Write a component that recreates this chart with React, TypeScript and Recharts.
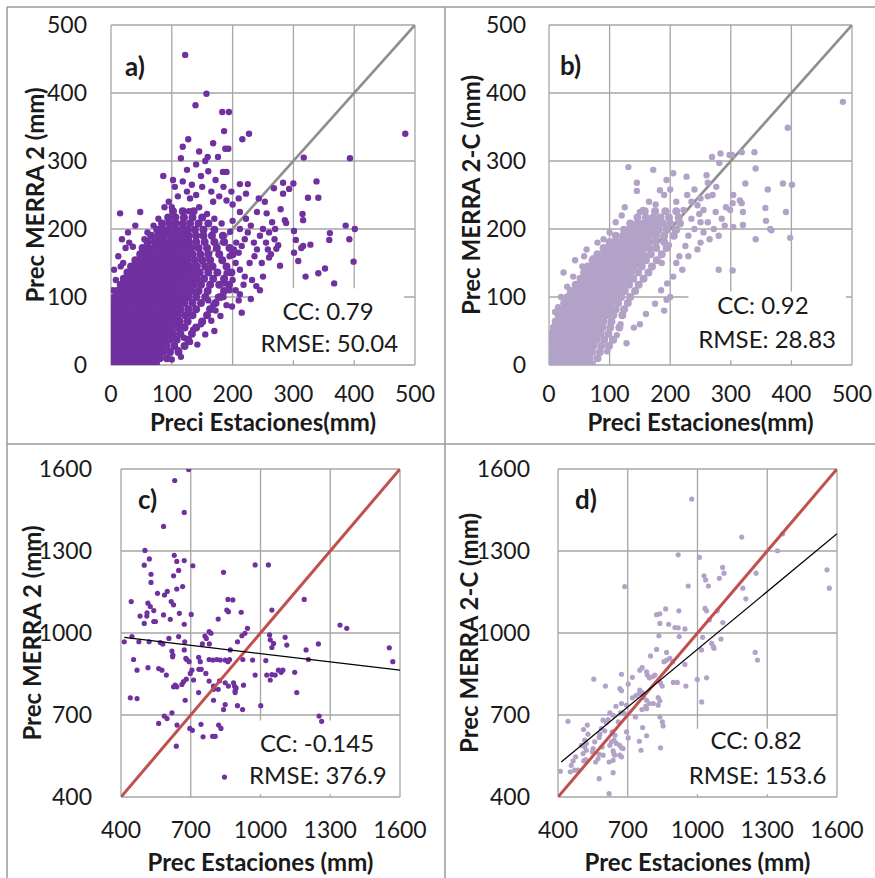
import React from 'react';
import {
  ScatterChart,
  Scatter,
  XAxis,
  YAxis,
  CartesianGrid,
  ReferenceArea,
  ReferenceDot,
  Label,
} from 'recharts';

const FONT = 'Lato, "Open Sans", sans-serif';
const INK = '#1a1a1a';

type Pair = [number, number];
type Row = [number, number[]];

// tick labels
const monthlyTicks = [0, 100, 200, 300, 400, 500];
const annualTicks = [400, 700, 1000, 1300, 1600];

// a) monthly MERRA 2 vs stations: dense core read as rows [y, x values]
const merra2MonthlyCore: Row[] = [
  [2, [1, 9, 18, 27, 36, 45, 54, 64, 74]],
  [10, [4, 13, 22, 31, 40, 50, 60, 70, 80, 92]],
  [19, [1, 9, 18, 27, 36, 45, 55, 65, 75, 85, 97, 111]],
  [28, [4, 13, 22, 31, 41, 51, 61, 71, 81, 91, 104, 121]],
  [37, [1, 9, 18, 27, 36, 46, 56, 66, 76, 86, 96, 108, 127]],
  [46, [4, 13, 22, 32, 42, 52, 62, 72, 82, 92, 102, 114, 133]],
  [55, [1, 9, 18, 28, 38, 48, 58, 68, 78, 88, 98, 110, 121, 140]],
  [64, [4, 13, 23, 33, 43, 53, 63, 73, 83, 93, 103, 113, 126, 150]],
  [73, [1, 10, 20, 30, 40, 50, 60, 70, 80, 90, 100, 110, 122, 134, 158]],
  [82, [4, 14, 24, 34, 44, 54, 64, 74, 84, 94, 104, 114, 127, 140, 163]],
  [91, [3, 11, 21, 31, 41, 51, 61, 71, 81, 91, 101, 111, 121, 134, 148, 172]],
  [100, [6, 16, 26, 36, 46, 56, 66, 76, 86, 96, 106, 116, 127, 140, 155, 180]],
  [109, [10, 20, 30, 40, 50, 60, 70, 80, 90, 100, 110, 121, 132, 144, 159, 186]],
  [118, [16, 26, 34, 44, 54, 64, 74, 84, 94, 104, 114, 125, 136, 148, 163, 178, 194]],
  [127, [21, 29, 39, 49, 59, 69, 79, 89, 99, 109, 119, 130, 141, 153, 168, 186]],
  [136, [27, 34, 44, 54, 64, 74, 84, 94, 104, 114, 124, 135, 146, 160, 175, 198]],
  [145, [33, 42, 50, 60, 70, 80, 90, 100, 110, 120, 130, 141, 155, 167, 190]],
  [154, [40, 50, 58, 66, 76, 86, 96, 106, 116, 126, 138, 150, 163, 183]],
  [163, [48, 56, 64, 74, 84, 94, 104, 114, 124, 134, 147, 160, 178, 200]],
  [172, [52, 62, 72, 82, 92, 102, 112, 122, 132, 144, 158, 174, 195]],
  [181, [60, 72, 80, 88, 98, 108, 118, 128, 140, 154, 170, 186]],
  [190, [66, 78, 88, 98, 108, 118, 128, 140, 152, 166, 184]],
  [199, [76, 86, 96, 106, 116, 126, 138, 152, 170]],
  [208, [84, 96, 106, 118, 130, 144, 160]],
  [217, [94, 106, 120, 134, 150]],
  [226, [102, 118, 136]],
];

const merra2MonthlySpread: Pair[] = [
  [122, 456], [157, 399], [139, 382], [183, 372], [194, 372], [186, 344], [484, 340], [227, 340],
  [216, 332], [127, 332], [118, 321], [168, 326], [188, 318], [193, 318], [145, 314], [159, 306],
  [176, 306], [115, 304], [317, 305], [393, 304], [184, 284], [190, 284], [125, 287], [212, 266],
  [225, 266], [86, 278], [102, 272], [133, 265], [283, 268], [300, 267], [338, 270], [293, 259],
  [268, 260], [341, 246], [324, 246], [283, 252], [222, 252], [243, 245], [253, 240], [315, 222],
  [316, 213], [256, 223], [279, 229], [286, 213], [288, 209], [386, 205], [401, 200], [360, 194],
  [359, 184], [392, 185], [301, 197], [304, 184], [316, 175], [313, 172], [301, 165], [328, 177],
  [269, 185], [275, 176], [272, 171], [263, 163], [308, 153], [399, 152], [341, 135], [320, 130],
  [352, 142], [367, 120], [278, 146], [260, 158], [239, 116], [215, 77], [212, 104], [230, 97],
  [199, 86], [130, 34], [15, 223], [48, 225], [16, 145], [24, 172], [36, 174],
  [95, 240], [110, 248], [125, 255], [140, 250], [150, 262], [165, 255], [178, 248], [190, 242],
  [200, 236], [105, 262], [118, 270], [148, 278], [160, 285], [172, 272], [185, 262], [198, 255],
  [210, 245], [140, 295], [155, 300], [130, 245], [168, 240], [70, 205], [60, 195], [78, 215],
  [55, 185], [88, 232], [100, 232], [128, 226], [145, 232], [158, 222], [170, 215], [182, 208],
  [205, 150], [210, 165], [215, 175], [220, 185], [225, 195], [230, 205], [235, 180], [240, 170],
  [245, 190], [250, 200], [255, 180], [260, 195], [265, 210], [270, 200], [212, 140], [220, 130],
  [228, 150], [236, 160], [248, 150], [232, 125], [218, 118], [205, 110], [210, 95], [200, 125],
  [222, 215], [240, 225], [200, 212], [212, 225], [258, 170], [250, 130], [245, 110], [206, 180],
  [212, 200], [196, 196], [202, 170], [195, 160], [190, 135], [185, 120], [176, 100], [168, 88],
  [110, 22], [120, 40], [135, 52], [148, 60], [155, 45], [165, 65], [172, 80], [180, 72],
  [190, 88], [142, 30], [160, 95], [185, 100], [195, 110], [170, 50], [115, 12], [100, 8],
  [3, 110], [8, 125], [5, 140], [12, 160], [20, 150], [18, 185], [28, 195], [40, 205], [30, 180],
];

// b) monthly MERRA 2-C (corrected) vs stations
const merra2cMonthlyCore: Row[] = [
  [2, [1, 10, 20, 30, 40, 50, 62]],
  [10, [1, 8, 17, 27, 37, 47, 57, 67, 80]],
  [19, [2, 11, 21, 31, 41, 51, 61, 71, 84]],
  [28, [4, 13, 23, 33, 43, 53, 63, 73, 86, 99]],
  [37, [3, 9, 18, 28, 38, 48, 58, 68, 78, 91, 106]],
  [46, [5, 14, 24, 34, 44, 54, 64, 74, 85, 98]],
  [55, [8, 17, 27, 37, 47, 57, 67, 77, 88, 101, 116]],
  [64, [11, 20, 30, 40, 50, 60, 70, 80, 90, 103]],
  [73, [16, 24, 34, 44, 54, 64, 74, 84, 94, 106, 121]],
  [82, [20, 28, 38, 48, 58, 68, 78, 88, 98, 110, 124]],
  [91, [25, 32, 42, 52, 62, 72, 82, 92, 102, 114, 130]],
  [100, [31, 37, 47, 57, 67, 77, 87, 97, 107, 119, 134]],
  [109, [36, 45, 53, 63, 73, 83, 93, 103, 113, 125, 142]],
  [118, [44, 52, 60, 70, 80, 90, 100, 110, 120, 132, 148]],
  [127, [52, 58, 67, 77, 87, 97, 107, 117, 127, 139, 156]],
  [136, [58, 66, 74, 84, 94, 104, 114, 124, 134, 147, 164]],
  [145, [64, 72, 80, 90, 100, 110, 120, 130, 140, 153, 170]],
  [154, [72, 80, 88, 98, 108, 118, 128, 138, 148, 160, 178]],
  [163, [80, 90, 95, 105, 115, 125, 135, 145, 155, 168, 186]],
  [172, [90, 98, 105, 115, 125, 135, 145, 155, 165, 177, 194]],
  [181, [100, 110, 118, 125, 135, 145, 155, 165, 176, 190]],
  [190, [110, 122, 130, 138, 145, 155, 166, 177, 190, 206]],
  [199, [124, 134, 142, 150, 160, 170, 181, 194, 210]],
  [208, [134, 146, 156, 166, 176, 188, 200, 216]],
  [217, [146, 160, 172, 184, 198, 214]],
  [226, [158, 175, 192, 210]],
];

const merra2cMonthlySpread: Pair[] = [
  [485, 387], [394, 349], [401, 265], [386, 267], [391, 225], [398, 187], [365, 200], [367, 198],
  [358, 212], [357, 231], [361, 258], [341, 185], [341, 289], [339, 313], [318, 313], [302, 309],
  [298, 309], [283, 311], [269, 306], [281, 297], [260, 279], [324, 267], [304, 250], [315, 242],
  [318, 238], [303, 238], [320, 225], [299, 228], [304, 203], [320, 206], [280, 140], [303, 139],
  [131, 291], [172, 287], [194, 272], [145, 268], [145, 256], [227, 277], [183, 257], [205, 282],
  [43, 154], [58, 160], [24, 136], [73, 157], [128, 32], [194, 96],
  [235, 240], [245, 235], [250, 245], [255, 228], [262, 248], [270, 250], [275, 225], [285, 215],
  [290, 205], [262, 210], [272, 200], [280, 190], [250, 210], [240, 200], [255, 195], [265, 185],
  [230, 190], [225, 175], [215, 160], [210, 150], [220, 140], [205, 130], [195, 120], [185, 110],
  [200, 100], [175, 90], [190, 80], [160, 75], [150, 60], [140, 55], [235, 215], [248, 222],
  [292, 232], [276, 262], [262, 268], [240, 258], [228, 250], [210, 240], [200, 258], [190, 250],
  [165, 240], [155, 228], [150, 225], [120, 220], [110, 210], [125, 232], [100, 195], [90, 185],
  [80, 180], [62, 170], [55, 145], [40, 130], [30, 115], [20, 100], [15, 85], [10, 78],
  [230, 160], [245, 170], [250, 180], [176, 236], [222, 228], [208, 198], [198, 176], [186, 150],
  [118, 60], [112, 44], [96, 20], [72, 2],
];

// c) annual MERRA 2 vs stations
const merra2Annual: Pair[] = [
  [691, 1598], [631, 1558], [672, 1441], [583, 1390], [503, 1302], [522, 1271], [500, 1248], [629, 1284],
  [640, 1262], [672, 1265], [709, 1246], [841, 1222], [977, 1249], [1034, 1249], [529, 1215], [529, 1185],
  [626, 1209], [648, 1229], [665, 1170], [640, 1161], [444, 1115], [557, 1145], [587, 1139], [599, 1152],
  [616, 1115], [626, 1103], [516, 1109], [526, 1097], [541, 1082], [482, 1062], [511, 1062], [512, 1074],
  [500, 1035], [541, 1042], [548, 1042], [583, 1066], [612, 1050], [651, 1072], [702, 1068], [672, 1032],
  [860, 1123], [881, 1121], [855, 1084], [862, 1078], [818, 1051], [917, 1076], [1049, 1084], [1188, 1123],
  [1342, 1029], [1371, 1017], [944, 1017], [933, 999], [920, 990], [761, 989], [779, 1005], [787, 999],
  [767, 980], [750, 960], [780, 960], [447, 987], [414, 968], [477, 968], [521, 968], [569, 965],
  [606, 980], [648, 987], [674, 968], [580, 960], [619, 934], [623, 919], [622, 913], [672, 938],
  [679, 907], [683, 903], [693, 895], [734, 911], [741, 895], [779, 903], [795, 901], [812, 903],
  [827, 901], [848, 901], [860, 895], [867, 903], [870, 938], [901, 968], [924, 903], [966, 901],
  [1023, 899], [1039, 993], [1042, 975], [1056, 962], [1049, 947], [1106, 984], [1113, 956], [1196, 938],
  [1206, 903], [1249, 960], [1554, 946], [1569, 895], [1147, 856], [1089, 856], [1077, 864], [1096, 864],
  [1049, 848], [1027, 846], [1042, 828], [1063, 846], [977, 846], [1156, 782], [1001, 734], [469, 864],
  [516, 873], [562, 870], [576, 864], [595, 846], [633, 809], [640, 803], [626, 803], [662, 812],
  [669, 822], [681, 831], [698, 852], [705, 864], [712, 828], [735, 867], [745, 867], [765, 852],
  [779, 824], [798, 806], [798, 794], [818, 794], [824, 825], [848, 818], [862, 806], [884, 818],
  [888, 806], [891, 789], [891, 782], [895, 799], [927, 809], [440, 763], [469, 760], [454, 903],
  [676, 754], [734, 782], [798, 754], [841, 720], [848, 738], [901, 734], [923, 720], [619, 708],
  [586, 696], [598, 687], [562, 669], [641, 663], [696, 651], [707, 644], [744, 666], [753, 620],
  [794, 622], [805, 622], [820, 663], [830, 651], [638, 586], [1252, 696], [1263, 677], [845, 473],
];

// d) annual MERRA 2-C vs stations
const merra2cAnnual: Pair[] = [
  [975, 1490], [1190, 1351], [1366, 1363], [1344, 1301], [917, 1286], [1008, 1277], [1557, 1231], [1567, 1164],
  [1108, 1240], [1114, 1219], [1094, 1200], [1028, 1209], [1035, 1194], [1047, 1172], [960, 1172], [687, 1170],
  [1252, 1219], [1195, 1164], [1208, 1125], [1032, 1090], [1039, 1081], [1085, 1081], [1051, 1048], [1109, 1038],
  [1101, 978], [1022, 984], [1017, 938], [1061, 962], [1068, 950], [1071, 944], [1248, 929], [1258, 901],
  [863, 1088], [838, 1070], [824, 1067], [920, 1081], [838, 1035], [876, 1032], [903, 1020], [917, 1019],
  [946, 1015], [921, 987], [834, 990], [824, 940], [798, 916], [856, 895], [867, 901], [881, 907],
  [893, 895], [946, 885], [867, 929], [762, 873], [752, 864], [781, 858], [784, 846], [793, 836],
  [807, 840], [817, 846], [841, 818], [848, 806], [896, 819], [913, 819], [950, 806], [999, 830],
  [1039, 836], [1018, 748], [673, 849], [720, 838], [702, 813], [673, 789], [666, 797], [604, 806],
  [554, 831], [752, 791], [762, 782], [749, 779], [735, 771], [720, 763], [769, 764], [781, 754],
  [793, 742], [810, 742], [838, 752], [831, 736], [831, 764], [778, 733], [781, 723], [761, 720],
  [673, 742], [695, 736], [649, 732], [733, 693], [764, 654], [781, 624], [750, 604], [757, 571],
  [838, 693], [849, 675], [852, 660], [841, 580], [669, 708], [685, 705], [659, 675], [623, 708],
  [637, 699], [616, 683], [608, 672], [594, 681], [587, 650], [601, 642], [580, 630], [577, 618],
  [633, 638], [645, 626], [641, 608], [651, 596], [665, 589], [673, 580], [680, 577], [666, 553],
  [673, 547], [630, 602], [623, 589], [637, 569], [640, 559], [637, 534], [620, 528], [594, 553],
  [577, 556], [572, 540], [562, 528], [558, 602], [551, 577], [548, 565], [526, 663], [510, 647],
  [529, 630], [515, 608], [522, 596], [501, 589], [515, 583], [522, 571], [508, 559], [519, 537],
  [511, 532], [476, 547], [465, 532], [457, 516], [472, 498], [453, 492], [443, 677], [486, 498],
  [410, 494], [577, 467], [620, 412], [637, 489], [695, 638], [702, 616], [590, 583], [644, 553],
];

// reference lines (1:1) and linear fits, in data units
const oneToOneMonthly: Pair[] = [[0, 0], [500, 500]];
const oneToOneAnnual: Pair[] = [[400, 400], [1600, 1600]];
const fitMerra2Annual: Pair[] = [[414, 984], [1600, 864]];
const fitMerra2cAnnual: Pair[] = [[414, 528], [1600, 1363]];

const toPts = (arr: Pair[]) => arr.map(([x, y]) => ({ x, y }));
const rowsToPts = (rows: Row[]) => rows.flatMap(([y, xs]) => xs.map((x) => ({ x, y })));

const dot = (color: string, r: number) => (p: any) => (
  <circle cx={p.cx} cy={p.cy} r={r} fill={color} />
);
const noDot = () => <g />;

type Note = { x: number; y: number; text: string };
type Pt = { x: number; y: number };

type PanelProps = {
  left: number;
  top: number;
  width: number;
  height: number;
  margin: { top: number; right: number; bottom: number; left: number };
  yAxisWidth: number;
  xAxisHeight: number;
  xTickMargin: number;
  yTickMargin: number;
  yLabelOffset: number;
  xLabelOffset: number;
  ticks: number[];
  domain: [number, number];
  xTitle: string;
  yTitle: string;
  core?: Pt[];
  points: Pt[];
  color: string;
  r: number;
  diag: Pair[];
  diagColor: string;
  diagWidth: number;
  diagOnTop: boolean;
  fit?: Pair[];
  box: [number, number, number, number];
  tag: Note;
  stats: Note[];
};

function Panel(p: PanelProps) {
  const tick = { fontSize: 23, fill: INK, fontFamily: FONT };
  const diagSeries = (
    <Scatter
      data={toPts(p.diag)}
      line={{ stroke: p.diagColor, strokeWidth: p.diagWidth }}
      shape={noDot}
      isAnimationActive={false}
    />
  );
  return (
    <div style={{ position: 'absolute', left: p.left, top: p.top }}>
      <ScatterChart width={p.width} height={p.height} margin={p.margin}>
        <CartesianGrid stroke="#a6a6a6" strokeWidth={1.3} />
        <XAxis
          type="number"
          dataKey="x"
          domain={p.domain}
          ticks={p.ticks}
          interval={0}
          allowDataOverflow
          axisLine={false}
          tickLine={false}
          tickSize={6}
          tickMargin={p.xTickMargin}
          height={p.xAxisHeight}
          tick={tick}
        >
          <Label
            value={p.xTitle}
            position="insideBottom"
            offset={p.xLabelOffset}
            fontSize={24}
            fontWeight={700}
            fill={INK}
            fontFamily={FONT}
          />
        </XAxis>
        <YAxis
          type="number"
          dataKey="y"
          domain={p.domain}
          ticks={p.ticks}
          interval={0}
          allowDataOverflow
          axisLine={false}
          tickLine={false}
          tickSize={6}
          tickMargin={p.yTickMargin}
          width={p.yAxisWidth}
          tick={tick}
        >
          <Label
            value={p.yTitle}
            angle={-90}
            position="insideLeft"
            offset={p.yLabelOffset}
            fontSize={24}
            fontWeight={700}
            fill={INK}
            fontFamily={FONT}
            style={{ textAnchor: 'middle' }}
          />
        </YAxis>
        <ReferenceArea
          x1={p.box[0]}
          x2={p.box[1]}
          y1={p.box[2]}
          y2={p.box[3]}
          fill="#ffffff"
          fillOpacity={1}
          stroke="none"
        />
        {!p.diagOnTop && diagSeries}
        {p.core && (
          <Scatter data={p.core} shape={dot(p.color, 4)} isAnimationActive={false} />
        )}
        <Scatter data={p.points} shape={dot(p.color, p.r)} isAnimationActive={false} />
        {p.diagOnTop && diagSeries}
        {p.fit && (
          <Scatter
            data={toPts(p.fit)}
            line={{ stroke: '#000000', strokeWidth: 1.2 }}
            shape={noDot}
            isAnimationActive={false}
          />
        )}
        <ReferenceDot
          x={p.tag.x}
          y={p.tag.y}
          r={0}
          fill="none"
          stroke="none"
          label={{
            value: p.tag.text,
            position: 'right',
            offset: 0,
            fontSize: 26,
            fontWeight: 700,
            fill: INK,
            fontFamily: FONT,
          }}
        />
        {p.stats.map((s) => (
          <ReferenceDot
            key={s.text}
            x={s.x}
            y={s.y}
            r={0}
            fill="none"
            stroke="none"
            label={{ value: s.text, position: 'center', fontSize: 24, fill: INK, fontFamily: FONT }}
          />
        ))}
      </ScatterChart>
    </div>
  );
}

export default function App() {
  return (
    <div
      style={{
        position: 'absolute',
        left: 0,
        top: 0,
        width: 875,
        height: 878,
        background: '#ffffff',
        fontFamily: FONT,
      }}
    >
      <svg width={875} height={878} style={{ position: 'absolute', left: 0, top: 0 }}>
        <g stroke="#9a9a9a" strokeWidth={1.5}>
          <line x1={7} y1={7} x2={875} y2={7} />
          <line x1={7} y1={7} x2={7} y2={878} />
          <line x1={445} y1={7} x2={445} y2={878} />
          <line x1={7} y1={444} x2={875} y2={444} />
        </g>
      </svg>

      <Panel
        left={0}
        top={0}
        width={445}
        height={444}
        margin={{ top: 25, right: 30, bottom: 9, left: 0 }}
        yAxisWidth={111}
        xAxisHeight={70}
        xTickMargin={15}
        yTickMargin={18}
        yLabelOffset={35}
        xLabelOffset={4}
        ticks={monthlyTicks}
        domain={[0, 500]}
        xTitle="Preci Estaciones(mm)"
        yTitle="Prec MERRA 2 (mm)"
        core={rowsToPts(merra2MonthlyCore)}
        points={toPts(merra2MonthlySpread)}
        color="#7030a0"
        r={3.2}
        diag={oneToOneMonthly}
        diagColor="#8f8f8f"
        diagWidth={2.7}
        diagOnTop={false}
        box={[232, 482, 7, 113]}
        tag={{ x: 23, y: 438, text: 'a)' }}
        stats={[
          { x: 357, y: 79, text: 'CC: 0.79' },
          { x: 359, y: 31, text: 'RMSE: 50.04' },
        ]}
      />

      <Panel
        left={445}
        top={0}
        width={430}
        height={444}
        margin={{ top: 25, right: 23, bottom: 9, left: 0 }}
        yAxisWidth={104}
        xAxisHeight={70}
        xTickMargin={15}
        yTickMargin={17}
        yLabelOffset={26}
        xLabelOffset={4}
        ticks={monthlyTicks}
        domain={[0, 500]}
        xTitle="Preci Estaciones(mm)"
        yTitle="Prec MERRA 2-C (mm)"
        core={rowsToPts(merra2cMonthlyCore)}
        points={toPts(merra2cMonthlySpread)}
        color="#b3a2c7"
        r={3.2}
        diag={oneToOneMonthly}
        diagColor="#8f8f8f"
        diagWidth={2.7}
        diagOnTop={false}
        box={[230, 490, 7, 108]}
        tag={{ x: 18, y: 440, text: 'b)' }}
        stats={[
          { x: 353, y: 87, text: 'CC: 0.92' },
          { x: 360, y: 38, text: 'RMSE: 28.83' },
        ]}
      />

      <Panel
        left={0}
        top={444}
        width={445}
        height={434}
        margin={{ top: 25, right: 45, bottom: 1, left: 0 }}
        yAxisWidth={121}
        xAxisHeight={80}
        xTickMargin={19}
        yTickMargin={23}
        yLabelOffset={32}
        xLabelOffset={6}
        ticks={annualTicks}
        domain={[400, 1600]}
        xTitle="Prec Estaciones (mm)"
        yTitle="Prec MERRA 2 (mm)"
        points={toPts(merra2Annual)}
        color="#7030a0"
        r={2.6}
        diag={oneToOneAnnual}
        diagColor="#c0504d"
        diagWidth={3}
        diagOnTop
        fit={fitMerra2Annual}
        box={[935, 1590, 410, 680]}
        tag={{ x: 473, y: 1487, text: 'c)' }}
        stats={[
          { x: 1243, y: 596, text: 'CC: -0.145' },
          { x: 1247, y: 477, text: 'RMSE: 376.9' },
        ]}
      />

      <Panel
        left={445}
        top={444}
        width={430}
        height={434}
        margin={{ top: 25, right: 38, bottom: 1, left: 0 }}
        yAxisWidth={113}
        xAxisHeight={80}
        xTickMargin={19}
        yTickMargin={22}
        yLabelOffset={24}
        xLabelOffset={6}
        ticks={annualTicks}
        domain={[400, 1600]}
        xTitle="Prec Estaciones (mm)"
        yTitle="Prec MERRA 2-C (mm)"
        points={toPts(merra2cAnnual)}
        color="#b3a2c7"
        r={2.6}
        diag={oneToOneAnnual}
        diagColor="#c0504d"
        diagWidth={3}
        diagOnTop
        fit={fitMerra2cAnnual}
        box={[940, 1590, 410, 650]}
        tag={{ x: 473, y: 1487, text: 'd)' }}
        stats={[
          { x: 1252, y: 607, text: 'CC: 0.82' },
          { x: 1258, y: 480, text: 'RMSE: 153.6' },
        ]}
      />
    </div>
  );
}
